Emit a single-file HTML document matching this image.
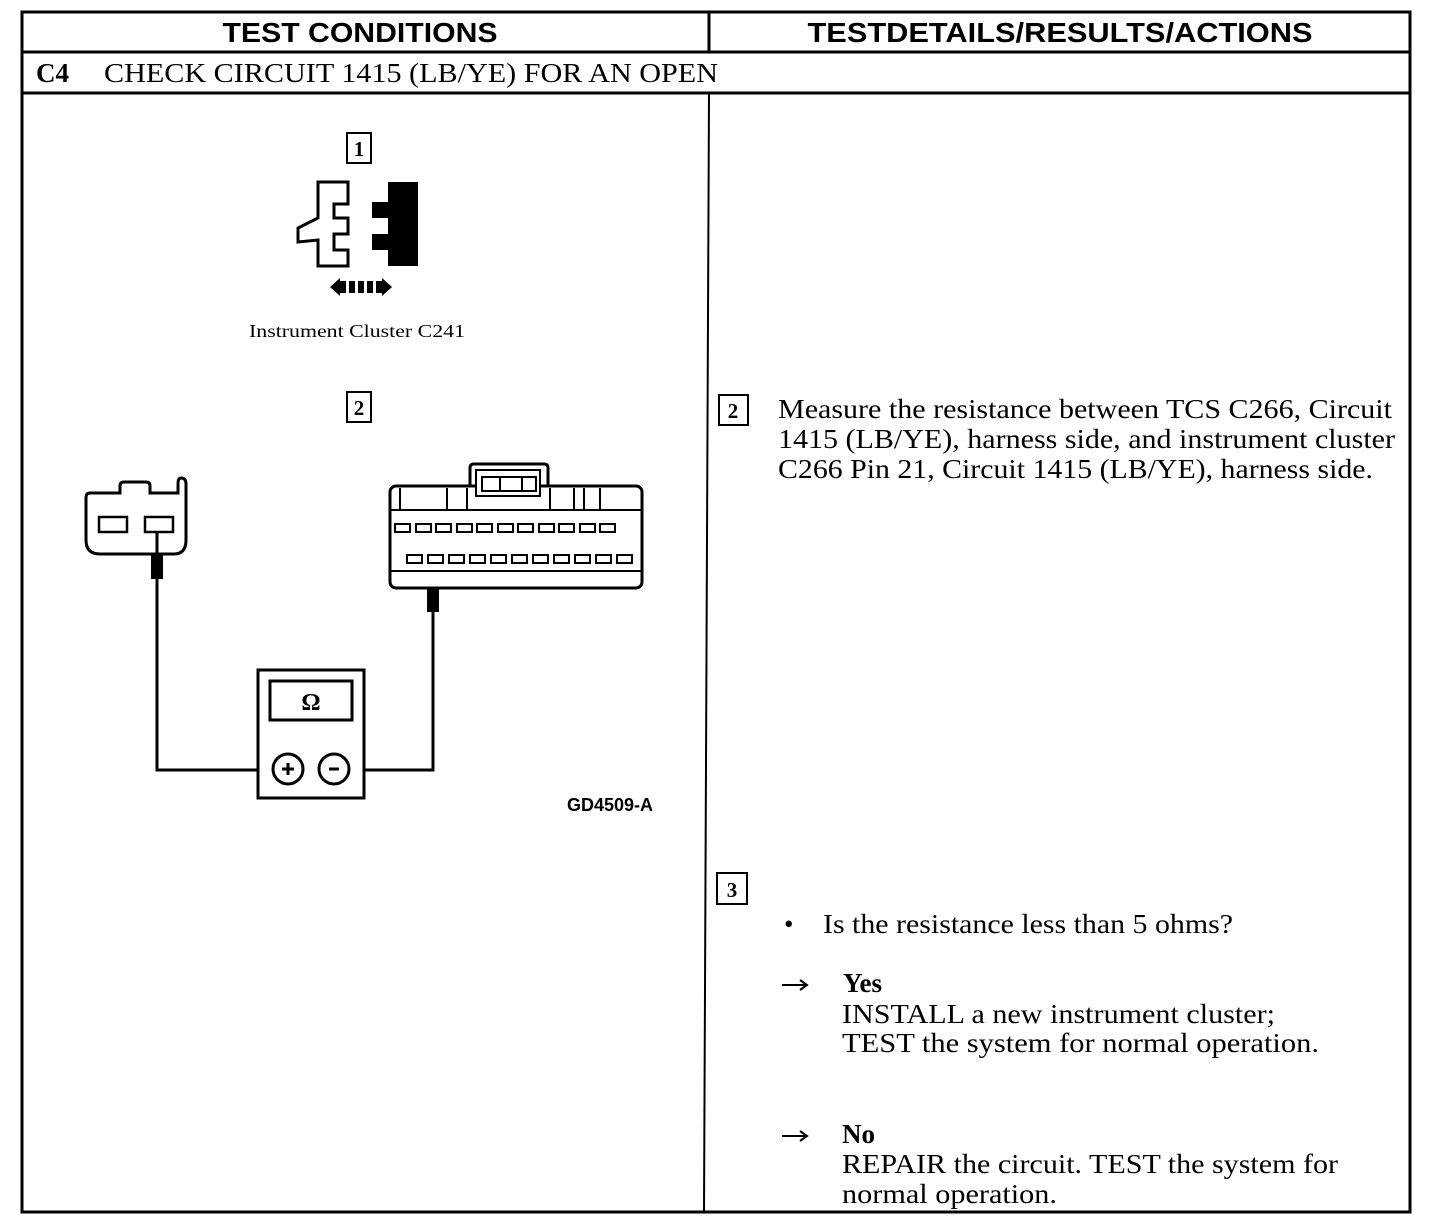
<!DOCTYPE html>
<html><head><style>html,body{margin:0;padding:0;background:#fff}svg{display:block}</style></head>
<body>
<svg width="1456" height="1230" viewBox="0 0 1456 1230" xmlns="http://www.w3.org/2000/svg">
<g stroke="#000" fill="none">
<rect x="22" y="12" width="1388" height="1200" stroke-width="3"/>
<line x1="22" y1="52" x2="1410" y2="52" stroke-width="3"/>
<line x1="22" y1="93" x2="1410" y2="93" stroke-width="3"/>
<line x1="709" y1="12" x2="709" y2="52" stroke-width="3"/>
<line x1="709" y1="93" x2="704" y2="1212" stroke-width="2"/>
</g>
<g font-family="Liberation Sans, sans-serif" font-weight="bold" font-size="28" text-anchor="middle">
<text x="360" y="42" textLength="275" lengthAdjust="spacingAndGlyphs">TEST CONDITIONS</text>
<text x="1060" y="42" textLength="505" lengthAdjust="spacingAndGlyphs">TESTDETAILS/RESULTS/ACTIONS</text>
</g>
<g font-family="Liberation Serif, serif" font-size="27">
<text x="36" y="82" font-weight="bold">C4</text>
<text x="104" y="82" textLength="614" lengthAdjust="spacingAndGlyphs">CHECK CIRCUIT 1415 (LB/YE) FOR AN OPEN</text>
</g>
<g stroke="#000" stroke-width="2" fill="none">
<rect x="347" y="133" width="24" height="30"/>
<rect x="347" y="392" width="24" height="30"/>
<rect x="719" y="395" width="29" height="30"/>
<rect x="717" y="873" width="30" height="31"/>
</g>
<g font-family="Liberation Serif, serif" font-size="21" font-weight="bold" text-anchor="middle">
<text x="359" y="156">1</text><text x="359" y="415">2</text>
<text x="733" y="418">2</text><text x="732" y="897">3</text>
</g>
<path d="M318,182 H348 V204 H334 V218 H348 V234 H334 V250 H348 V266 H318 V240 L298,242 V228 L318,218 Z" stroke="#000" stroke-width="3" fill="#fff"/>
<path d="M388,182 H418 V266 H388 V250 H372 V234 H388 V218 H372 V202 H388 Z" fill="#000"/>
<path d="M330,287 L340,278 V296 Z M392,287 L382,278 V296 Z" fill="#000"/>
<g fill="#000"><rect x="340" y="281" width="6" height="12"/><rect x="349" y="281" width="6" height="12"/><rect x="358" y="281" width="6" height="12"/><rect x="367" y="281" width="6" height="12"/><rect x="376" y="281" width="6" height="12"/></g>
<text x="357" y="337" font-family="Liberation Serif, serif" font-size="18" text-anchor="middle" textLength="216" lengthAdjust="spacingAndGlyphs">Instrument Cluster C241</text>
<g stroke="#000" stroke-width="3" fill="none">
<path d="M86,498 V540 Q86,554 100,554 H174 Q186,554 186,540 V484 Q186,478 181,478 Q178,478 178,484 V493 H150 V486 Q150,482 146,482 H124 Q120,482 120,486 V493 H90 Q86,493 86,498 Z" fill="#fff"/>
<rect x="99" y="517" width="28" height="15" stroke-width="2.5"/>
<rect x="145" y="517" width="28" height="15" stroke-width="2.5"/>
<path d="M157,532 V770 H272" stroke-width="3"/>
<path d="M352,770 H433 V590 V564" stroke-width="3"/>
</g>
<rect x="151" y="555" width="12" height="24" fill="#000"/>
<rect x="427" y="584" width="12" height="28" fill="#000"/>
<g stroke="#000" stroke-width="3" fill="#fff">
<rect x="258" y="670" width="106" height="128"/>
<rect x="270" y="681" width="82" height="39"/>
<circle cx="288" cy="769" r="15"/>
<circle cx="334" cy="769" r="15"/>
</g>
<text x="311" y="710" font-family="Liberation Serif, serif" font-size="24" font-weight="bold" text-anchor="middle">Ω</text>
<path d="M282,769 H294 M288,763 V775 M329,769 H339" stroke="#000" stroke-width="3"/>
<g stroke="#000" stroke-width="3" fill="#fff">
<path d="M470,486 V468 Q470,464 474,464 H544 Q548,464 548,468 V486"/>
<rect x="390" y="486" width="252" height="102" rx="6"/>
<line x1="390" y1="510" x2="642" y2="510" stroke-width="2"/>
<line x1="390" y1="571" x2="642" y2="571" stroke-width="2"/>
<rect x="476" y="470" width="64" height="26" stroke-width="2"/>
<rect x="482" y="477" width="54" height="14" stroke-width="2"/>
</g>
<g stroke="#000" stroke-width="2">
<line x1="400" y1="488" x2="400" y2="510"/><line x1="447" y1="488" x2="447" y2="510"/>
<line x1="467" y1="488" x2="467" y2="510"/><line x1="550" y1="488" x2="550" y2="510"/>
<line x1="574" y1="488" x2="574" y2="510"/><line x1="584" y1="488" x2="584" y2="510"/>
<line x1="600" y1="488" x2="600" y2="510"/>
<line x1="500" y1="477" x2="500" y2="491"/><line x1="522" y1="477" x2="522" y2="491"/>
</g>
<g stroke="#000" stroke-width="2" fill="#fff">
<rect x="395" y="524" width="15" height="8"/><rect x="416" y="524" width="15" height="8"/><rect x="436" y="524" width="15" height="8"/><rect x="457" y="524" width="15" height="8"/><rect x="477" y="524" width="15" height="8"/><rect x="498" y="524" width="15" height="8"/><rect x="518" y="524" width="15" height="8"/><rect x="539" y="524" width="15" height="8"/><rect x="559" y="524" width="15" height="8"/><rect x="580" y="524" width="15" height="8"/><rect x="600" y="524" width="15" height="8"/>
<rect x="407" y="555" width="15" height="8"/><rect x="428" y="555" width="15" height="8"/><rect x="449" y="555" width="15" height="8"/><rect x="470" y="555" width="15" height="8"/><rect x="491" y="555" width="15" height="8"/><rect x="512" y="555" width="15" height="8"/><rect x="533" y="555" width="15" height="8"/><rect x="554" y="555" width="15" height="8"/><rect x="575" y="555" width="15" height="8"/><rect x="596" y="555" width="15" height="8"/><rect x="617" y="555" width="15" height="8"/>
</g>
<text x="610" y="811" font-family="Liberation Sans, sans-serif" font-weight="bold" font-size="18" text-anchor="middle">GD4509-A</text>
<g stroke="#000" stroke-width="2" fill="none">
<path d="M782,985 H806 M800,980 L807,985 L800,990"/>
<path d="M782,1136 H806 M800,1131 L807,1136 L800,1141"/>
</g>
<g font-family="Liberation Serif, serif" font-size="27">
<text x="778" y="418" textLength="614" lengthAdjust="spacingAndGlyphs">Measure the resistance between TCS C266, Circuit</text>
<text x="778" y="448" textLength="617" lengthAdjust="spacingAndGlyphs">1415 (LB/YE), harness side, and instrument cluster</text>
<text x="778" y="478" textLength="595" lengthAdjust="spacingAndGlyphs">C266 Pin 21, Circuit 1415 (LB/YE), harness side.</text>
<text x="784" y="933">•</text>
<text x="823" y="933" textLength="410" lengthAdjust="spacingAndGlyphs">Is the resistance less than 5 ohms?</text>
<text x="843" y="992" font-weight="bold">Yes</text>
<text x="842" y="1023" textLength="433" lengthAdjust="spacingAndGlyphs">INSTALL a new instrument cluster;</text>
<text x="842" y="1052" textLength="477" lengthAdjust="spacingAndGlyphs">TEST the system for  normal operation.</text>
<text x="842" y="1143" font-weight="bold">No</text>
<text x="842" y="1173" textLength="496" lengthAdjust="spacingAndGlyphs">REPAIR the circuit. TEST the system for</text>
<text x="842" y="1203" textLength="215" lengthAdjust="spacingAndGlyphs">normal operation.</text>
</g>
</svg>
</body></html>
